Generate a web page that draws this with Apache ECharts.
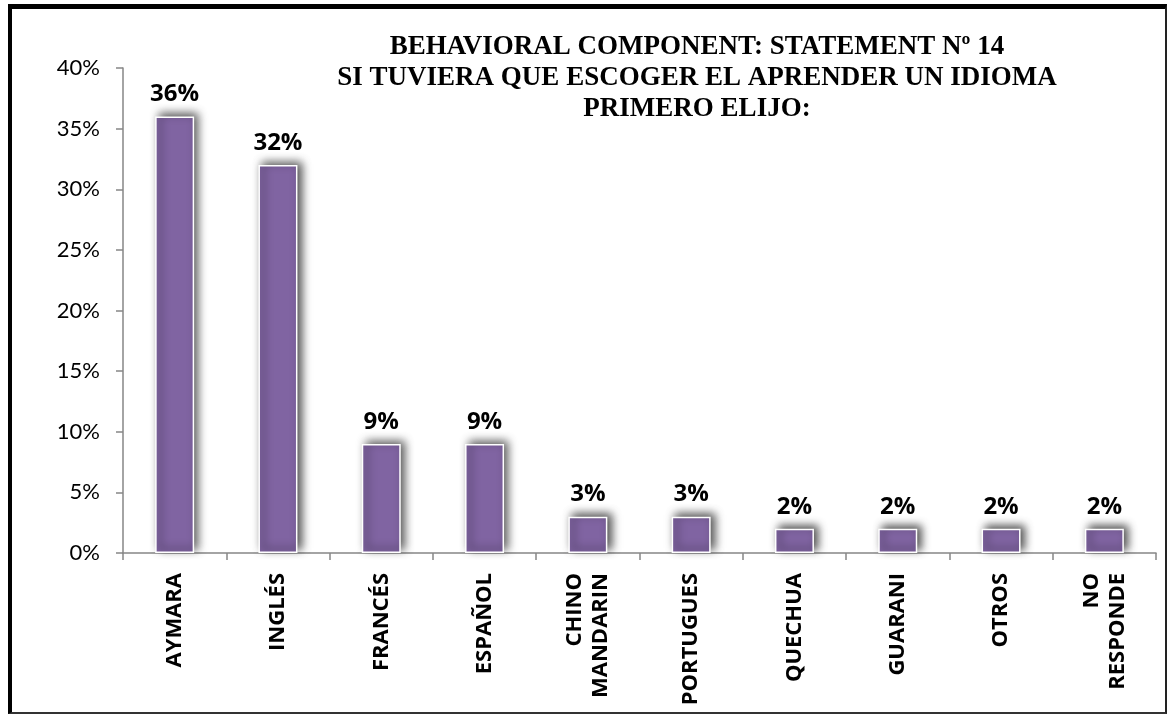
<!DOCTYPE html>
<html>
<head>
<meta charset="utf-8">
<script src="https://cdn.jsdelivr.net/npm/echarts@6/dist/echarts.min.js"></script>
<style>
  html, body { margin: 0; padding: 0; background: #fff; }
  #wrap { position: relative; width: 1168px; height: 715px; }
  #chart { position: absolute; left: 0; top: 0; width: 1168px; height: 715px; }
  #frame {
    position: absolute; left: 8px; top: 4px; width: 1159px; height: 710px;
    box-sizing: border-box; pointer-events: none;
    border-top: 5px solid #000; border-left: 4px solid #000;
    border-right: 2px solid #222; border-bottom: 2px solid #333;
  }
</style>
</head>
<body>
<div id="wrap">
  <div id="chart"></div>
  <div id="frame"></div>
</div>
<script>
// Languages chosen first (percent of respondents)
const categories = ['AYMARA', 'INGLÉS', 'FRANCÉS', 'ESPAÑOL', 'CHINO\nMANDARIN',
  'PORTUGUES', 'QUECHUA', 'GUARANI', 'OTROS', 'NO\nRESPONDE'];
const values = [36, 32, 9, 9, 3, 3, 2, 2, 2, 2];
const titleLines = [
  'BEHAVIORAL COMPONENT: STATEMENT Nº 14',
  'SI TUVIERA QUE ESCOGER EL APRENDER UN IDIOMA',
  'PRIMERO ELIJO:'
];
const yMin = 0, yMax = 40, yStep = 5;

const chart = echarts.init(document.getElementById('chart'), null, { renderer: 'canvas' });
const axisGray = '#868686';
const sans = '"Open Sans", Lato, sans-serif';

chart.setOption({
  animation: false,
  backgroundColor: '#fff',
  title: {
    text: titleLines.join('\n'),
    left: 692,
    textAlign: 'center',
    top: 27,
    textStyle: {
      fontFamily: '"Liberation Serif", "Times New Roman", serif',
      fontWeight: 'bold',
      fontSize: 27,
      lineHeight: 31,
      color: '#000'
    }
  },
  grid: { left: 123, right: 12, top: 68, bottom: 162, containLabel: false },
  xAxis: {
    type: 'category',
    data: categories,
    axisLine: { lineStyle: { color: axisGray, width: 1.5 } },
    axisTick: { show: true, length: 7, lineStyle: { color: axisGray, width: 1.5 } },
    axisLabel: {
      interval: 0,
      rotate: 90,
      margin: 20,
      fontFamily: sans,
      fontWeight: 'bold',
      fontSize: 22,
      lineHeight: 26,
      color: '#000'
    }
  },
  yAxis: {
    type: 'value',
    min: yMin, max: yMax, interval: yStep,
    axisLine: { show: true, lineStyle: { color: axisGray, width: 1.5 } },
    axisTick: { show: true, length: 7, lineStyle: { color: axisGray, width: 1.5 } },
    splitLine: { show: false },
    axisLabel: {
      formatter: '{value}%',
      margin: 23,
      fontFamily: 'Lato, "Open Sans", sans-serif',
      fontSize: 22,
      color: '#000'
    }
  },
  series: [{
    type: 'bar',
    data: values,
    barWidth: 39,
    itemStyle: {
      color: '#8064A2',
      borderColor: '#fff',
      borderWidth: 1.5,
      shadowColor: 'rgba(0,0,0,0.7)',
      shadowBlur: 9,
      shadowOffsetX: 4,
      shadowOffsetY: -3
    },
    label: {
      show: true,
      position: 'top',
      distance: 10,
      formatter: '{c}%',
      fontFamily: sans,
      fontWeight: 'bold',
      fontSize: 24,
      color: '#000'
    }
  }]
});
</script>
</body>
</html>
